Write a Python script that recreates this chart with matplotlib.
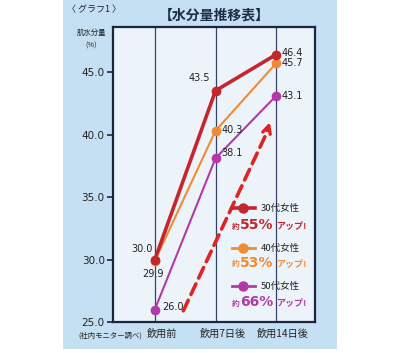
import matplotlib
matplotlib.use("Agg")
import matplotlib.pyplot as plt
import matplotlib.transforms as mtransforms
from matplotlib.patches import Rectangle

plt.rcParams["font.family"] = ["Noto Sans CJK JP", "DejaVu Sans"]

# data
stages = ["飲用前", "飲用7日後", "飲用14日後"]
groups = ["30代女性", "40代女性", "50代女性"]
val_30s = [30.0, 43.5, 46.4]
val_40s = [29.9, 40.3, 45.7]
val_50s = [26.0, 38.1, 43.1]
rise_pct = [55, 53, 66]
y_ticks = [25.0, 30.0, 35.0, 40.0, 45.0]

COLORS = ["#c3262e", "#f08a35", "#b23aa6"]
WIDTHS = [2.6, 1.5, 1.5]
ZORDERS = [3.5, 3.2, 3.0]
NAVY = "#1b2544"
# label offsets in points (dx, dy, ha) per point
OFFSETS = [
    [(-1.5, 7.5, "right"), (-4, 9, "right"), (4, 1, "left")],
    [(-1, -9.5, "center"), (4.5, 0.5, "left"), (4, 0, "left")],
    [(5, 2, "left"), (4, 4, "left"), (4, 0, "left")],
]

fig = plt.figure(figsize=(4.0, 3.53), dpi=100)
fig.patch.set_facecolor("white")
fig.patches.append(Rectangle((0.1575, 0.011), 0.685, 0.989, transform=fig.transFigure,
                             facecolor="#c4e0f2", edgecolor="none", zorder=-10))

ax = fig.add_axes([0.2825, 0.0878, 0.505, 0.8357])
ax.set_facecolor("#edf4f9")

x = list(range(len(stages)))
for xi in x:
    ax.axvline(xi, color="#34436a", lw=0.9, zorder=1)

series = [val_30s, val_40s, val_50s]
for vals, col, lw, zo, offs in zip(series, COLORS, WIDTHS, ZORDERS, OFFSETS):
    ax.plot(x, vals, color=col, lw=lw, marker="o", ms=6, mec=col, mfc=col, zorder=zo)
    for xi, v, (dx, dy, ha) in zip(x, vals, offs):
        ax.annotate(f"{v:.1f}", (xi, v), xytext=(dx, dy), textcoords="offset points",
                    ha=ha, va="center", fontsize=7, color="#222222",
                    family="DejaVu Sans", zorder=4)

# red dashed trend arrow
ax.annotate("", xy=(1.86, 40.3), xytext=(0.45, 25.7),
            arrowprops=dict(arrowstyle="-", color="#e02424", lw=2.6,
                            linestyle=(0, (3.2, 1.8))), zorder=2)
ax.annotate("", xy=(1.91, 41.2), xytext=(1.84, 40.1),
            arrowprops=dict(arrowstyle="->", color="#e02424", lw=2.4,
                            mutation_scale=14), zorder=2)

ax.set_xlim(-0.69, 2.64)
ax.set_ylim(25.0, 48.6)
ax.set_yticks(y_ticks)
ax.set_yticklabels([f"{t:.1f}" for t in y_ticks], family="DejaVu Sans")
ax.set_xticks(x)
ax.set_xticklabels(stages)
ax.tick_params(axis="y", direction="out", length=4, width=1.2, color=NAVY,
               labelsize=7.5, labelcolor="#222222", pad=2)
ax.tick_params(axis="x", length=0, labelsize=7.3, labelcolor="#222222", pad=5)
shift = mtransforms.ScaledTranslation(5 / 72, 0, fig.dpi_scale_trans)
for lab in ax.get_xticklabels():
    lab.set_transform(lab.get_transform() + shift)
for sp in ax.spines.values():
    sp.set_color(NAVY)
    sp.set_linewidth(1.6)

# custom legend with rise percentages
leg_y = [0.386, 0.251, 0.122]
txt_y = [0.325, 0.197, 0.064]
for name, col, lw, ly, ty, pct in zip(groups, COLORS, WIDTHS, leg_y, txt_y, rise_pct):
    ax.plot([0.589, 0.703], [ly, ly], color=col, lw=max(lw, 2.0), transform=ax.transAxes,
            zorder=5, clip_on=False)
    ax.plot([0.646], [ly], color=col, marker="o", ms=6.5, transform=ax.transAxes, zorder=6)
    ax.text(0.733, ly, name, transform=ax.transAxes, fontsize=6.8, va="center",
            ha="left", color="#222222", zorder=6)
    ax.text(0.589, ty, "約", transform=ax.transAxes, fontsize=5.5, va="center",
            ha="left", color=col, fontweight="bold", zorder=6)
    ax.text(0.627, ty + 0.004, f"{pct}%", transform=ax.transAxes, fontsize=10, va="center",
            ha="left", color=col, fontweight="bold", family="DejaVu Sans", zorder=6)
    ax.text(0.805, ty, "アップ!", transform=ax.transAxes, fontsize=6.5, va="center",
            ha="left", color=col, fontweight="bold", zorder=6)

fig.text(0.537, 0.957, "【水分量推移表】", ha="center", va="center", fontsize=10,
         fontweight="bold", color="#1e2a44")
fig.text(0.168, 0.972, "〈 グラフ1 〉", ha="left", va="center", fontsize=6.5,
         color="#222222", style="italic")
fig.text(0.228, 0.908, "肌水分量", ha="center", va="center", fontsize=5.3, color="#222222")
fig.text(0.228, 0.872, "(%)", ha="center", va="center", fontsize=5.3, color="#222222")
fig.text(0.355, 0.049, "(社内モニター調べ)", ha="right", va="center", fontsize=5.3,
         color="#222222")

fig.savefig("out.png", dpi=100)
